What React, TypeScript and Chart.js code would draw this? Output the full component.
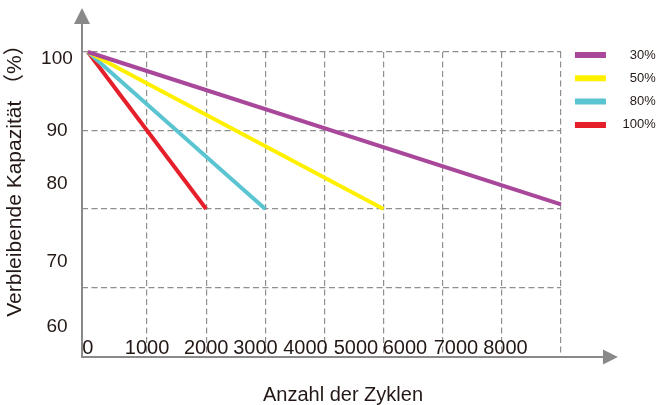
import React, { useEffect, useRef } from "react";
import { Chart, registerables } from "chart.js";

Chart.register(...registerables);

// ---- data ----
const seriesLabels = ["30%", "50%", "80%", "100%"];
const seriesColors = ["#A9479A", "#FFF000", "#5BC4D1", "#E5202B"];

const cycles30 = [0, 8000];
const capacity30 = [100, 80.6];
const cycles50 = [0, 5000];
const capacity50 = [100, 80];
const cycles80 = [0, 3000];
const capacity80 = [100, 80];
const cycles100 = [0, 2000];
const capacity100 = [100, 80];

// grid lines
const xGridValues = [1000, 2000, 3000, 4000, 5000, 6000, 7000, 8000];
const yGridValues = [70, 80, 90, 100];

// tick labels (as printed in the picture, where they sit)
const xTickLabels = ["0", "1000", "2000", "3000", "4000", "5000", "6000", "7000", "8000"];
const xTickAt = [0, 1000, 2000, 2833, 3679, 4533, 5361, 6224, 7061];
const yTickLabels = ["100", "90", "80", "70", "60"];
const yTickAt = [99.2, 90, 83.2, 73.3, 65.0];

const xMin = -100;
const xMax = 8000;
const yMin = 61.15;
const yMax = 100;

const xTitle = "Anzahl der Zyklen";
const yTitle = "Verbleibende Kapazität （%）";

// ---- styles ----
const FONT = "'Liberation Sans', Arial, 'Noto Sans CJK SC', sans-serif";
const TEXT = "#231815";
const AXIS = "#898989";
const GRID = "#8f8f8f";

const axisDecor = {
  id: "axisDecor",
  afterDraw(chart: any) {
    const { ctx, chartArea: a } = chart;
    ctx.save();
    ctx.strokeStyle = AXIS;
    ctx.fillStyle = AXIS;
    ctx.lineWidth = 2;
    ctx.lineJoin = "miter";
    ctx.beginPath();
    ctx.moveTo(a.left, a.top - 28);
    ctx.lineTo(a.left, a.bottom);
    ctx.lineTo(a.right + 42, a.bottom);
    ctx.stroke();
    // y arrow
    ctx.beginPath();
    ctx.moveTo(a.left, a.top - 44);
    ctx.lineTo(a.left - 8, a.top - 28);
    ctx.lineTo(a.left + 8, a.top - 28);
    ctx.closePath();
    ctx.fill();
    // x arrow
    ctx.beginPath();
    ctx.moveTo(a.right + 57, a.bottom);
    ctx.lineTo(a.right + 42, a.bottom - 7.5);
    ctx.lineTo(a.right + 42, a.bottom + 7.5);
    ctx.closePath();
    ctx.fill();

    // axis titles
    ctx.fillStyle = TEXT;
    ctx.textAlign = "center";
    ctx.textBaseline = "middle";
    ctx.font = "20px " + FONT;
    ctx.fillText(xTitle, (a.left + a.right) / 2 + 21.5, a.bottom + 38.8);
    ctx.font = "21px " + FONT;
    ctx.translate(a.left - 66.5, (a.top + a.bottom) / 2 - 29);
    ctx.rotate(-Math.PI / 2);
    ctx.fillText(yTitle, 0, 0);
    ctx.restore();
  },
};

function makeSeries(xs: number[], ys: number[]) {
  return xs.map((x, i) => ({ x, y: ys[i] }));
}

export default function App() {
  const ref = useRef<HTMLCanvasElement | null>(null);

  useEffect(() => {
    document.body.style.margin = "0";
    if (!ref.current) return;
    Chart.defaults.font.family = FONT;
    const seriesData = [
      makeSeries(cycles30, capacity30),
      makeSeries(cycles50, capacity50),
      makeSeries(cycles80, capacity80),
      makeSeries(cycles100, capacity100),
    ];
    const chart = new Chart(ref.current, {
      type: "line",
      data: {
        datasets: seriesData.map((d, i) => ({
          label: seriesLabels[i],
          data: d,
          borderColor: seriesColors[i],
          backgroundColor: seriesColors[i],
          borderWidth: 4,
          pointRadius: 0,
          pointHoverRadius: 0,
          fill: false,
          tension: 0,
          clip: false as any,
          xAxisID: "x",
          yAxisID: "y",
        })),
      },
      options: {
        responsive: false,
        animation: false,
        events: [],
        layout: { padding: { top: 38.2, right: 0.3, bottom: 0, left: 0 } },
        plugins: {
          tooltip: { enabled: false },
          title: {
            display: true,
            text: "",
            fullSize: false,
            padding: { top: 3.8, bottom: 0 },
            font: { size: 10, lineHeight: 1 },
          },
          legend: {
            display: true,
            position: "right",
            align: "start",
            fullSize: true,
            labels: {
              boxWidth: 31,
              boxHeight: 6,
              padding: 10.3,
              color: TEXT,
              font: { size: 13 },
              textAlign: "right",
              generateLabels: (c: any) =>
                (Chart.defaults.plugins.legend.labels.generateLabels as any)(c).map((l: any) => ({
                  ...l,
                  lineWidth: 0,
                })),
            },
          },
        },
        scales: {
          x: {
            type: "linear",
            position: "bottom",
            min: xMin,
            max: xMax,
            afterBuildTicks: (s: any) => {
              s.ticks = xGridValues.map((v) => ({ value: v }));
            },
            ticks: { display: false },
            grid: { color: GRID, lineWidth: 1.2, drawTicks: false },
            border: { display: false, dash: [6, 3.5] },
            afterFit: (s: any) => {
              s.height = 0;
            },
          },
          xl: {
            type: "linear",
            position: "bottom",
            min: xMin,
            max: xMax,
            afterBuildTicks: (s: any) => {
              s.ticks = xTickAt.map((v) => ({ value: v }));
            },
            ticks: {
              callback: (_v: any, i: number) => xTickLabels[i],
              font: { size: 20 },
              color: TEXT,
              mirror: true,
              padding: -3.5,
              maxRotation: 0,
              minRotation: 0,
              autoSkip: false,
            },
            grid: { display: false, drawTicks: false },
            border: { display: false },
            afterFit: (s: any) => {
              s.height = 48;
            },
          },
          y: {
            type: "linear",
            position: "right",
            min: yMin,
            max: yMax,
            afterBuildTicks: (s: any) => {
              s.ticks = yGridValues.map((v) => ({ value: v }));
            },
            ticks: { display: false },
            grid: { color: GRID, lineWidth: 1.2, drawTicks: false },
            border: { display: false, dash: [6, 3.5] },
            afterFit: (s: any) => {
              s.width = 3.7;
            },
          },
          yl: {
            type: "linear",
            position: "left",
            min: yMin,
            max: yMax,
            afterBuildTicks: (s: any) => {
              s.ticks = yTickAt.map((v) => ({ value: v }));
            },
            ticks: {
              callback: (_v: any, i: number) => yTickLabels[i],
              font: { size: 19 },
              color: TEXT,
              crossAlign: "center",
              padding: 9.2,
              autoSkip: false,
            },
            grid: { display: false, drawTicks: false },
            border: { display: false },
            afterFit: (s: any) => {
              s.width = 82;
            },
          },
        },
      } as any,
      plugins: [axisDecor],
    });
    return () => chart.destroy();
  }, []);

  return (
    <div style={{ width: 656, height: 405 }}>
      <canvas ref={ref} width={656} height={405} style={{ display: "block" }} />
    </div>
  );
}
